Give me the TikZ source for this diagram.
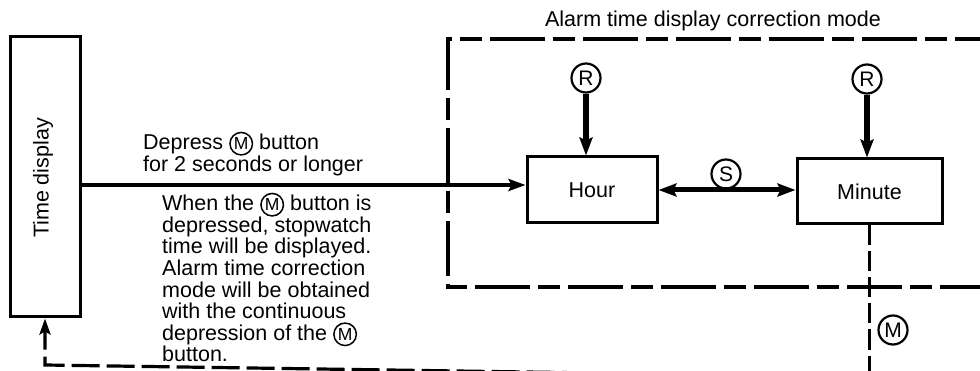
\documentclass[tikz,border=0pt]{standalone}
\usepackage{fontspec}
\setmainfont{Liberation Sans}
\usetikzlibrary{arrows.meta}
\newcommand\cirl[1]{\tikz[baseline=(cl.base)]\node[draw,circle,line width=1.5pt,inner sep=0pt,minimum size=22.5pt,font=\fontsize{17.5}{17.5}\selectfont] (cl) {#1};}
\tikzset{
  boxnode/.style={draw,line width=3pt,inner sep=0pt},
  circnode/.style={draw,circle,line width=2.2pt,inner sep=0pt,minimum size=29pt,font=\fontsize{21}{21}\selectfont},
  thickarr/.style={line width=4.5pt,-{Stealth[length=17pt,width=12pt,inset=3pt]}},
  heavyarr/.style={line width=5.5pt,-{Stealth[length=18pt,width=13pt,inset=3pt]}},
  dblarr/.style={line width=5pt,{Stealth[length=18pt,width=13pt,inset=3pt]}-{Stealth[length=18pt,width=13pt,inset=3pt]}},
  modebox/.style={line width=3.2pt,dash pattern=on 55pt off 8pt on 22pt off 8pt},
  mline/.style={line width=3.2pt,dash pattern=on 20pt off 6pt},
  fbline/.style={line width=3.2pt,dash pattern=on 28pt off 7pt},
  txt/.style={inner sep=0pt,align=left}
}
\begin{document}
\begin{tikzpicture}[x=1pt,y=-1pt,font=\fontsize{21.5}{21.6}\selectfont]
\useasboundingbox (0,0) rectangle (980,371);
\clip (0,0) rectangle (980,371);
% time display
\node[boxnode,minimum width=70pt,minimum height=280pt] (td) at (45,177) {};
\node[rotate=90] (tdlabel) at (43,178) {Time display};
% mode box
\coordinate (mbtr) at (1010,39);
\coordinate (mbtl) at (448,39);
\coordinate (mbbl) at (448,287);
\coordinate (mbbr) at (1010,287);
\draw[modebox] (mbtr) -- (mbtl) -- (mbbl) -- (mbbr);
\node (title) at (713,21) {Alarm time display correction mode};
% boxes
\node[boxnode,minimum width=130pt,minimum height=66pt] (hour) at (592,190) {Hour};
\node[boxnode,minimum width=145pt,minimum height=65pt] (minute) at (869.5,191.5) {Minute};
\node[circnode] (r1) at (586,78) {R};
\node[circnode] (r2) at (867,79) {R};
\node[circnode] (s) at (726,174) {S};
\node[circnode] (m) at (893,330) {M};
% arrows
\coordinate (hin) at ([yshift=5pt]hour.west);
\draw[thickarr] (td.east |- hin) -- (hin);
\draw[heavyarr] (r1.south) -- (r1.south |- hour.north);
\draw[heavyarr] (r2.south) -- (r2.south |- minute.north);
\draw[dblarr] (hour.east) -- (hour.east -| minute.west);
% M return
\coordinate (mend) at (869.5,377);
\coordinate (fbcorner) at (45,365);
\draw[mline] (minute.south) -- (mend);
\draw[fbline,-{Stealth[length=16pt,width=11pt,inset=3pt]}] (mend) -- (fbcorner) -- (td.south);
% texts
\node[txt,anchor=north west] (t1) at (143,131.5) {Depress \cirl{M} button\\for 2 seconds or longer};
\node[txt,anchor=north west] (t2) at (162,192.5) {When the \cirl{M} button is\\depressed, stopwatch\\time will be displayed.\\Alarm time correction\\mode will be obtained\\with the continuous\\depression of the \cirl{M}\\button.};
\end{tikzpicture}
\end{document}
